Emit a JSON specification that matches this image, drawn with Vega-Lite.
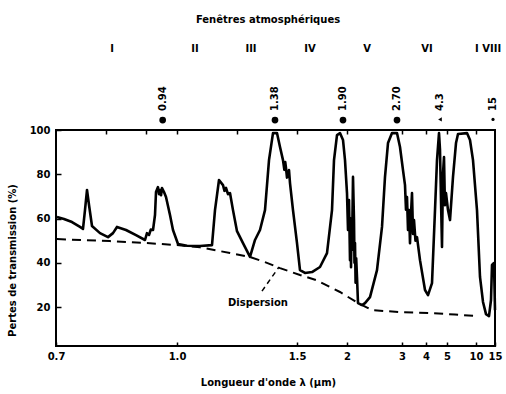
{
  "$schema": "https://vega.github.io/schema/vega-lite/v6.json",
  "width": 439,
  "height": 216,
  "autosize": "none",
  "padding": {"left": 56, "top": 130, "right": 11, "bottom": 48},
  "background": "white",
  "config": {
    "view": {"stroke": "black", "strokeWidth": 2},
    "font": "DejaVu Sans",
    "axis": {"labelFont": "DejaVu Sans", "labelFontWeight": "bold", "labelFontSize": 10, "labelColor": "black", "titleFont": "DejaVu Sans", "titleFontWeight": "bold", "titleFontSize": 10, "titleColor": "black", "domain": false, "grid": false, "tickColor": "black", "tickWidth": 1.5}
  },
  "datasets": {
    "solid": [
      {"wl":0.7017,"pct":60.7},{"wl":0.7141,"pct":59.8},{"wl":0.7289,"pct":58.4},{"wl":0.7443,"pct":56.2},{"wl":0.7502,"pct":55.3},{"wl":0.7542,"pct":63.8},{"wl":0.7583,"pct":72.9},{"wl":0.7624,"pct":66.1},{"wl":0.7686,"pct":56.6},{"wl":0.7857,"pct":53.4},{"wl":0.8036,"pct":51.6},{"wl":0.8152,"pct":53.4},{"wl":0.8247,"pct":56.2},{"wl":0.847,"pct":54.8},{"wl":0.8732,"pct":52.5},{"wl":0.8982,"pct":50.3},{"wl":0.9039,"pct":53.4},{"wl":0.91,"pct":52.6},{"wl":0.915,"pct":55.0},{"wl":0.9217,"pct":54.8},{"wl":0.9277,"pct":61.6},{"wl":0.9308,"pct":72.0},{"wl":0.9369,"pct":74.2},{"wl":0.94,"pct":71.0},{"wl":0.9432,"pct":72.9},{"wl":0.9465,"pct":70.5},{"wl":0.9496,"pct":73.8},{"wl":0.956,"pct":72.0},{"wl":0.9625,"pct":69.7},{"wl":0.9758,"pct":61.6},{"wl":0.986,"pct":54.8},{"wl":1.0028,"pct":48.5},{"wl":1.0286,"pct":47.7},{"wl":1.0683,"pct":47.6},{"wl":1.1077,"pct":48.0},{"wl":1.118,"pct":63.8},{"wl":1.1321,"pct":77.4},{"wl":1.1465,"pct":75.1},{"wl":1.152,"pct":72.5},{"wl":1.1576,"pct":73.8},{"wl":1.165,"pct":71.0},{"wl":1.1726,"pct":71.5},{"wl":1.1842,"pct":63.8},{"wl":1.2,"pct":54.3},{"wl":1.2245,"pct":48.9},{"wl":1.2544,"pct":42.7},{"wl":1.2766,"pct":50.3},{"wl":1.2996,"pct":54.8},{"wl":1.3235,"pct":63.8},{"wl":1.3433,"pct":86.4},{"wl":1.3636,"pct":98.6},{"wl":1.3846,"pct":98.6},{"wl":1.4008,"pct":92.3},{"wl":1.4173,"pct":86.4},{"wl":1.425,"pct":82.0},{"wl":1.43,"pct":85.5},{"wl":1.4343,"pct":82.8},{"wl":1.44,"pct":78.5},{"wl":1.4458,"pct":79.7},{"wl":1.4516,"pct":81.9},{"wl":1.4575,"pct":76.0},{"wl":1.4754,"pct":63.8},{"wl":1.5,"pct":48.9},{"wl":1.5228,"pct":36.7},{"wl":1.5625,"pct":35.4},{"wl":1.6216,"pct":35.8},{"wl":1.6949,"pct":38.1},{"wl":1.7647,"pct":44.4},{"wl":1.8182,"pct":63.8},{"wl":1.8405,"pct":86.4},{"wl":1.875,"pct":97.7},{"wl":1.9108,"pct":98.6},{"wl":1.9481,"pct":95.5},{"wl":1.9737,"pct":86.4},{"wl":2.0,"pct":71.5},{"wl":2.0122,"pct":54.8},{"wl":2.0245,"pct":68.4},{"wl":2.037,"pct":41.2},{"wl":2.045,"pct":60.0},{"wl":2.05,"pct":38.0},{"wl":2.056,"pct":55.0},{"wl":2.0625,"pct":45.8},{"wl":2.0755,"pct":78.8},{"wl":2.0886,"pct":59.3},{"wl":2.095,"pct":40.0},{"wl":2.1019,"pct":48.9},{"wl":2.11,"pct":31.0},{"wl":2.118,"pct":42.0},{"wl":2.129,"pct":33.6},{"wl":2.1429,"pct":21.8},{"wl":2.2,"pct":20.9},{"wl":2.2449,"pct":21.8},{"wl":2.3239,"pct":24.5},{"wl":2.4444,"pct":36.7},{"wl":2.5385,"pct":56.2},{"wl":2.5984,"pct":78.8},{"wl":2.6613,"pct":94.1},{"wl":2.75,"pct":98.6},{"wl":2.8696,"pct":98.6},{"wl":2.9464,"pct":92.3},{"wl":3.0316,"pct":81.9},{"wl":3.0968,"pct":75.1},{"wl":3.13,"pct":64.0},{"wl":3.1648,"pct":69.7},{"wl":3.2,"pct":54.8},{"wl":3.2359,"pct":63.8},{"wl":3.2727,"pct":48.9},{"wl":3.31,"pct":62.0},{"wl":3.3488,"pct":71.5},{"wl":3.39,"pct":53.0},{"wl":3.4286,"pct":59.3},{"wl":3.49,"pct":50.0},{"wl":3.5556,"pct":51.6},{"wl":3.6923,"pct":41.2},{"wl":3.9452,"pct":27.7},{"wl":4.0777,"pct":25.4},{"wl":4.2424,"pct":30.8},{"wl":4.375,"pct":63.8},{"wl":4.4681,"pct":86.4},{"wl":4.5652,"pct":98.6},{"wl":4.6154,"pct":91.0},{"wl":4.6667,"pct":68.4},{"wl":4.7191,"pct":47.1},{"wl":4.77,"pct":80.0},{"wl":4.8276,"pct":87.8},{"wl":4.88,"pct":66.0},{"wl":4.9412,"pct":71.5},{"wl":5.0877,"pct":63.8},{"wl":5.2727,"pct":59.3},{"wl":5.5769,"pct":78.8},{"wl":5.9184,"pct":94.1},{"wl":6.1702,"pct":98.2},{"wl":7.6316,"pct":98.6},{"wl":8.2857,"pct":95.5},{"wl":9.0625,"pct":86.4},{"wl":10.178,"pct":63.8},{"wl":10.755,"pct":33.6},{"wl":11.4,"pct":22.3},{"wl":12.128,"pct":16.8},{"wl":12.955,"pct":15.9},{"wl":13.571,"pct":23.2},{"wl":13.902,"pct":39.0},{"wl":14.615,"pct":39.9},{"wl":15,"pct":18.6}
    ],
    "dispersion": [
      {"wl":0.7017,"pct":50.7},{"wl":0.8082,"pct":49.8},{"wl":0.9039,"pct":48.9},{"wl":1.0,"pct":48.0},{"wl":1.0683,"pct":47.0},{"wl":1.1726,"pct":44.4},{"wl":1.2544,"pct":42.6},{"wl":1.3235,"pct":40.3},{"wl":1.4008,"pct":37.6},{"wl":1.5228,"pct":34.5},{"wl":1.6575,"pct":32.2},{"wl":1.9108,"pct":26.8},{"wl":2.1429,"pct":21.8},{"wl":2.3571,"pct":18.6},{"wl":2.9464,"pct":17.7},{"wl":4.1584,"pct":17.3},{"wl":5.8,"pct":16.6},{"wl":10.178,"pct":15.9}
    ],
    "peaks": [
      {"wl":0.9517,"label":"0.94"},{"wl":1.374,"label":"1.38"},{"wl":1.948,"label":"1.90"},{"wl":2.8696,"label":"2.70"},{"wl":4.615,"label":"4.3"},{"wl":14.25,"label":"15"}
    ],
    "windows": [
      {"wl":0.8129,"num":"I"},{"wl":1.0526,"num":"II"},{"wl":1.2587,"num":"III"},{"wl":1.6043,"num":"IV"},{"wl":2.2759,"num":"V"},{"wl":4.0385,"num":"VI"}
    ],
    "leader": [{"wl":1.3091,"pct":27.2,"wl2":1.3953,"pct2":38.1}],
    "notes": [{"wl":1.2903,"pct":21.8,"txt":"Dispersion"}]
  },
  "resolve": {"axis": {"x": "independent", "y": "independent"}},
  "layer": [
    {
      "data": {"name": "solid"},
      "mark": {"type": "line", "color": "black", "strokeWidth": 2.6, "strokeJoin": "round"},
      "encoding": {
        "x": {"field": "wl", "type": "quantitative",
              "scale": {"type": "pow", "exponent": -1, "domain": [0.7, 1, 1.5, 2, 3, 4, 5, 10, 15], "range": [0, 121, 241, 291, 346, 370, 391, 420, 439], "nice": false, "zero": false},
              "axis": {"orient": "bottom", "values": [0.7, 1, 1.5, 2, 3, 4, 5, 10, 15], "format": "~g", "labelExpr": "datum.value == 1 ? '1.0' : datum.label", "tickSize": -4, "labelPadding": 9, "labelFlush": false, "labelOverlap": false, "title": "Longueur d'onde λ (μm)", "titleX": 212, "titleY": 36, "titleAlign": "center", "titleBaseline": "middle"}},
        "y": {"field": "pct", "type": "quantitative",
              "scale": {"domain": [2.4, 100], "nice": false, "zero": false},
              "axis": {"orient": "left", "values": [20, 40, 60, 80, 100], "tickSize": -5, "labelPadding": 11, "title": "Pertes de transmission (%)", "titleX": -44, "titleY": 130, "titleAngle": 270, "titleAlign": "center", "titleBaseline": "middle"}}
      }
    },
    {
      "data": {"name": "dispersion"},
      "mark": {"type": "line", "color": "black", "strokeWidth": 2, "strokeDash": [9, 6]},
      "encoding": {
        "x": {"field": "wl", "type": "quantitative", "axis": {"orient": "top", "values": [0.8, 0.9, 1, 1.2, 1.5, 2, 3, 4, 5, 10], "labels": false, "tickSize": -4, "title": null}},
        "y": {"field": "pct", "type": "quantitative", "axis": null}
      }
    },
    {
      "data": {"name": "leader"},
      "mark": {"type": "rule", "color": "black", "strokeWidth": 1.5, "strokeDash": [5, 4]},
      "encoding": {
        "x": {"field": "wl", "type": "quantitative", "axis": null},
        "y": {"field": "pct", "type": "quantitative", "axis": null},
        "x2": {"field": "wl2"},
        "y2": {"field": "pct2"}
      }
    },
    {
      "data": {"name": "notes"},
      "mark": {"type": "text", "font": "DejaVu Sans", "fontWeight": "bold", "fontSize": 10, "color": "black"},
      "encoding": {
        "x": {"field": "wl", "type": "quantitative", "axis": null},
        "y": {"field": "pct", "type": "quantitative", "axis": null},
        "text": {"field": "txt"}
      }
    },
    {
      "data": {"name": "peaks"},
      "transform": [{"filter": "indexof(['0.94','1.38','1.90','2.70'], datum.label) >= 0"}],
      "mark": {"type": "point", "filled": true, "color": "black", "size": 45, "opacity": 1},
      "encoding": {
        "x": {"field": "wl", "type": "quantitative", "axis": null},
        "y": {"datum": 104.5, "type": "quantitative", "axis": null}
      }
    },
    {
      "data": {"name": "peaks"},
      "transform": [{"filter": "datum.label == '4.3'"}],
      "mark": {"type": "point", "filled": true, "color": "black", "size": 18, "shape": "triangle-left", "opacity": 1},
      "encoding": {
        "x": {"field": "wl", "type": "quantitative", "axis": null},
        "y": {"datum": 104.8, "type": "quantitative", "axis": null}
      }
    },
    {
      "data": {"name": "peaks"},
      "transform": [{"filter": "datum.label == '15'"}],
      "mark": {"type": "point", "filled": true, "color": "black", "size": 10, "opacity": 1},
      "encoding": {
        "x": {"field": "wl", "type": "quantitative", "axis": null},
        "y": {"datum": 104.8, "type": "quantitative", "axis": null}
      }
    },
    {
      "data": {"name": "peaks"},
      "mark": {"type": "text", "angle": 270, "align": "left", "baseline": "middle", "font": "DejaVu Sans", "fontWeight": "bold", "fontSize": 10, "color": "black"},
      "encoding": {
        "x": {"field": "wl", "type": "quantitative", "axis": null},
        "y": {"datum": 108.6, "type": "quantitative", "axis": null},
        "text": {"field": "label"}
      }
    },
    {
      "data": {"name": "windows"},
      "mark": {"type": "text", "font": "DejaVu Sans", "fontWeight": "bold", "fontSize": 10, "color": "black", "baseline": "middle"},
      "encoding": {
        "x": {"field": "wl", "type": "quantitative", "axis": null},
        "y": {"datum": 136.6, "type": "quantitative", "axis": null},
        "text": {"field": "num"}
      }
    },
    {
      "data": {"values": [{"wl": 9.667, "txt": "I VIII"}]},
      "mark": {"type": "text", "font": "DejaVu Sans", "fontWeight": "bold", "fontSize": 10, "color": "black", "baseline": "middle", "align": "left"},
      "encoding": {
        "x": {"field": "wl", "type": "quantitative", "axis": null},
        "y": {"datum": 136.6, "type": "quantitative", "axis": null},
        "text": {"field": "txt"}
      }
    },
    {
      "data": {"values": [{"wl": 1.3383, "txt": "Fenêtres atmosphériques"}]},
      "mark": {"type": "text", "font": "DejaVu Sans", "fontWeight": "bold", "fontSize": 10, "color": "black", "baseline": "middle"},
      "encoding": {
        "x": {"field": "wl", "type": "quantitative", "axis": null},
        "y": {"datum": 149.7, "type": "quantitative", "axis": null},
        "text": {"field": "txt"}
      }
    }
  ]
}
